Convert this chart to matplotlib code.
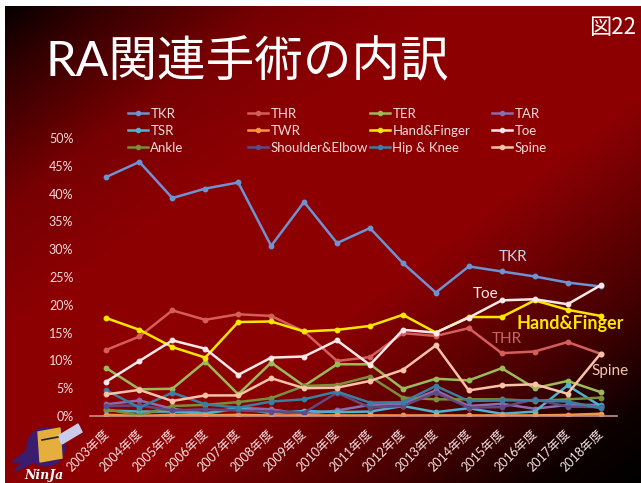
import numpy as np
import matplotlib
matplotlib.use("Agg")
from matplotlib import pyplot as plt
from matplotlib.lines import Line2D
from matplotlib.patches import Circle, Polygon

# Data (percent of RA-related surgeries per fiscal year)
years = ["2003年度", "2004年度", "2005年度", "2006年度", "2007年度", "2008年度",
         "2009年度", "2010年度", "2011年度", "2012年度", "2013年度", "2014年度",
         "2015年度", "2016年度", "2017年度", "2018年度"]

tkr = [43.0, 45.7, 39.2, 40.9, 42.0, 30.6, 38.5, 31.1, 33.8, 27.5, 22.2, 26.9, 26.0, 25.1, 24.0, 23.3]
thr = [11.9, 14.3, 19.0, 17.3, 18.3, 18.0, 15.2, 9.9, 10.6, 14.9, 14.4, 15.8, 11.3, 11.6, 13.3, 11.2]
ter = [8.6, 4.8, 4.9, 9.8, 3.9, 9.6, 5.4, 9.3, 9.3, 4.9, 6.7, 6.4, 8.6, 5.0, 6.3, 4.3]
tar = [2.1, 2.8, 1.3, 0.5, 1.5, 1.2, 0.3, 1.0, 2.0, 2.2, 4.6, 1.8, 2.2, 1.3, 2.0, 2.0]
tsr = [1.0, 0.8, 0.8, 0.4, 1.4, 0.5, 0.9, 0.7, 0.8, 1.8, 0.7, 1.4, 0.4, 0.8, 5.5, 1.8]
twr = [0.2, 0.0, 0.2, 0.1, 0.2, 0.1, 0.1, 0.1, 0.1, 0.1, 0.1, 0.1, 0.1, 0.1, 0.2, 0.4]
hand = [17.6, 15.5, 12.4, 10.5, 16.9, 17.0, 15.2, 15.5, 16.2, 18.2, 15.0, 17.8, 17.8, 20.8, 19.1, 18.0]
toe = [6.2, 9.9, 13.6, 12.1, 7.4, 10.5, 10.7, 13.6, 9.2, 15.5, 15.0, 17.7, 20.8, 21.0, 20.1, 23.5]
ankle = [1.2, 0.1, 1.8, 2.0, 2.5, 3.2, 5.4, 5.6, 7.1, 3.3, 3.0, 3.0, 3.0, 2.7, 3.0, 3.3]
shoulder = [1.8, 1.9, 1.0, 1.2, 1.0, 0.8, 0.6, 4.2, 1.5, 1.8, 4.2, 1.5, 1.6, 3.0, 1.7, 1.6]
hipknee = [4.6, 1.5, 4.2, 2.1, 1.5, 2.6, 3.0, 4.4, 2.4, 2.5, 5.4, 2.7, 2.8, 2.8, 2.6, 1.4]
spine = [3.9, 4.7, 2.7, 3.7, 3.7, 6.8, 5.0, 5.1, 6.3, 8.3, 12.7, 4.6, 5.5, 5.7, 4.0, 11.2]

names = ["TKR", "THR", "TER", "TAR", "TSR", "TWR", "Hand&Finger", "Toe",
         "Ankle", "Shoulder&Elbow", "Hip & Knee", "Spine"]
series = [tkr, thr, ter, tar, tsr, twr, hand, toe, ankle, shoulder, hipknee, spine]
colors = ["#6E92D2", "#D35E5B", "#9BBB59", "#8A6CB0", "#4BB4D0", "#F79646",
          "#FFE600", "#FBE8E8", "#7A8F3A", "#5F4A82", "#3A7FA0", "#FAC2A6"]

plt.rcParams['font.family'] = ['Lato', 'Noto Sans CJK JP', 'DejaVu Sans']

W, H = 641, 483
fig = plt.figure(figsize=(W / 100, H / 100), dpi=100)

# background: diagonal black -> dark red -> black
bg = fig.add_axes([0, 0, 1, 1])
xx, yy = np.meshgrid(np.linspace(0, 1, W), np.linspace(0, 1, H))
t = (xx + yy) / 2
f = np.interp(t, [0, 0.08, 0.22, 0.35, 0.6, 0.8, 0.92, 1.0], [0, 0.35, 0.85, 1, 1, 0.5, 0.1, 0])
img = np.zeros((H, W, 3))
img[..., 0] = 0.55 * f
img[..., 2] = 0.01 * f
img[:6, :] = 1.0
img[:, :5] = 1.0
bg.imshow(img, extent=(0, W, H, 0), aspect='auto', interpolation='bilinear')
bg.set_xlim(0, W)
bg.set_ylim(H, 0)
bg.axis('off')

# ninja logo (rough)
bg.add_patch(Polygon([[30, 448], [12, 462], [22, 462], [14, 472], [34, 462]], color='#3A1D6E'))
bg.add_patch(Circle((46, 447), 19, color='#3A1D6E'))
bg.add_patch(Polygon([[38, 432], [60, 428], [62, 458], [40, 462]], color='#E6AE3C'))
bg.plot([42, 58], [440, 437], color='#222222', lw=1.2)
bg.add_patch(Polygon([[58, 436], [78, 424], [82, 432], [62, 444]], color='#C9CBE8'))
bg.text(44, 476, "NinJa", color='white', fontsize=9, style='italic', weight='bold',
        family='DejaVu Serif', ha='center', va='center')

# titles
fig.text(45 / W, 1 - 62 / H, "RA関連手術の内訳", color='white', fontsize=35,
         va='center', ha='left')
fig.text(636 / W, 1 - 27 / H, "図22", color='white', fontsize=16, va='center', ha='right',
         family=['Noto Sans CJK JP'])

# main chart
ax = fig.add_axes([90 / W, 67 / H, 527 / W, 278 / H])
ax.patch.set_alpha(0)
x = np.arange(len(years))
for vals, c in zip(series, colors):
    ax.plot(x, vals, color=c, lw=1.8, marker='o', ms=3.2)

ax.set_xlim(-0.5, len(years) - 0.5)
ax.set_ylim(0, 50)
for s in ['top', 'right', 'left']:
    ax.spines[s].set_visible(False)
ax.spines['bottom'].set_color('#C89090')
ax.spines['bottom'].set_linewidth(1.2)
ax.set_yticks(range(0, 51, 5))
ax.set_yticklabels([f"{v}%" for v in range(0, 51, 5)])
ax.tick_params(axis='y', length=0, pad=12, labelsize=9, labelcolor='#F2DCDB')
ax.set_xticks(x)
ax.set_xticklabels(years)
ax.tick_params(axis='x', length=0, pad=11, labelsize=9, labelcolor='#F4E4E4')
plt.setp(ax.get_xticklabels(), rotation=45, ha='right', va='center', rotation_mode='anchor')

# direct labels
ax.text(12.35, 28.6, "TKR", color='#C9D0EC', fontsize=11, ha='center', va='center')
ax.text(11.5, 21.9, "Toe", color='#FBEAEA', fontsize=11, ha='center', va='center')
ax.text(14.07, 16.7, "Hand&Finger", color='#FFE600', fontsize=13, weight='bold',
        ha='center', va='center')
ax.text(12.15, 13.8, "THR", color='#C96664', fontsize=11, ha='center', va='center')
ax.text(15.3, 8.1, "Spine", color='#F4C6B0', fontsize=11, ha='center', va='center')

# legend: four fixed-width columns
col_x = [128, 248, 370, 492]
for c in range(4):
    idx = [c, c + 4, c + 8]
    handles = [Line2D([], [], color=colors[i], lw=1.8, marker='o', ms=3) for i in idx]
    fig.legend(handles, [names[i] for i in idx], loc='upper left',
               bbox_to_anchor=(col_x[c] / W, 1 - 108 / H), frameon=False, fontsize=9.5,
               handlelength=1.5, handletextpad=0.2, labelspacing=0.38,
               borderpad=0, borderaxespad=0, labelcolor='#F2DCDB')

fig.savefig("out.png", dpi=100)
